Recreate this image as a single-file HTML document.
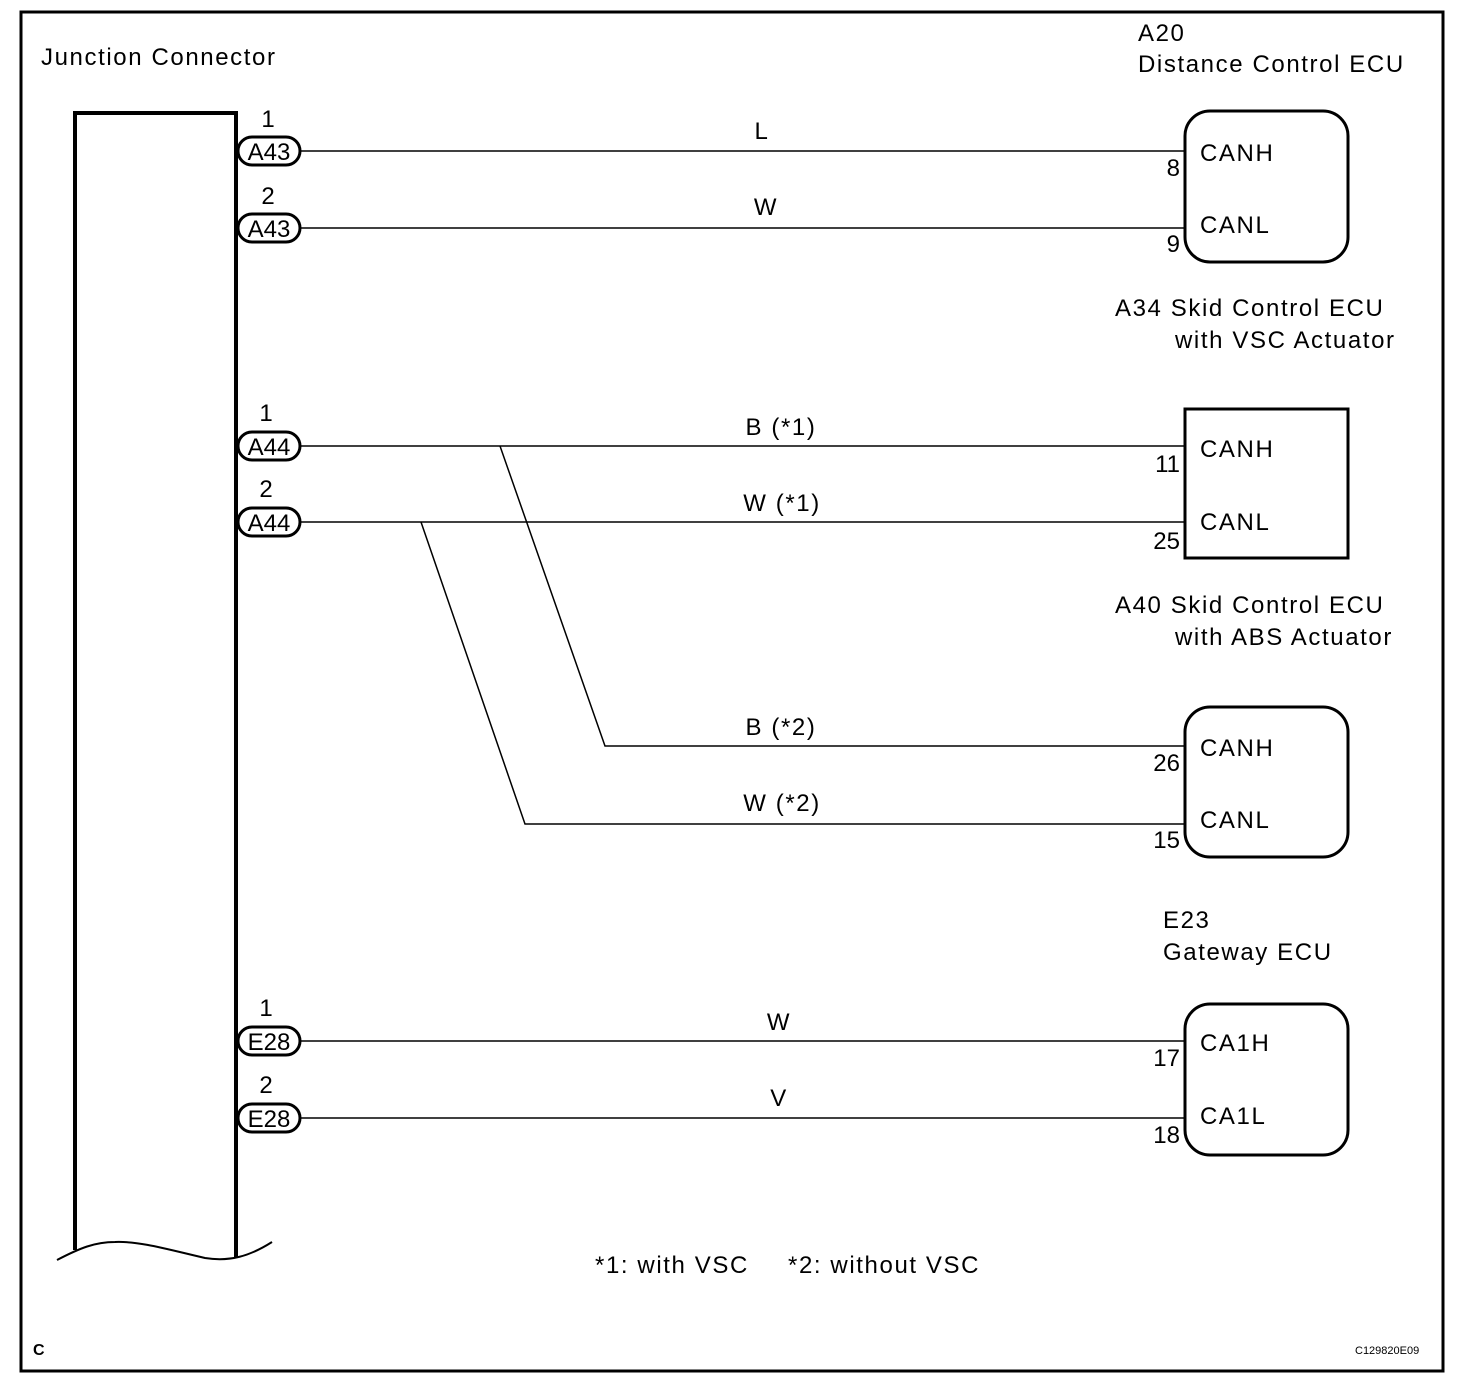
<!DOCTYPE html>
<html><head><meta charset="utf-8"><style>
html,body{margin:0;padding:0;background:#fff;}
svg{display:block;}
text{font-family:"Liberation Sans",Arial,sans-serif;fill:#000;}
.w{letter-spacing:1.6px;}
</style></head><body>
<svg width="1472" height="1394" viewBox="0 0 1472 1394" xmlns="http://www.w3.org/2000/svg">
<rect x="21" y="12" width="1422" height="1359" fill="none" stroke="#000" stroke-width="3"/>
<path d="M75,1250 V113 H236 V1258" fill="none" stroke="#000" stroke-width="4"/>
<path d="M57,1260 C80,1248 95,1242 115,1242 C140,1241 170,1250 205,1258 C230,1262 250,1256 272,1242" fill="none" stroke="#000" stroke-width="2"/>
<g font-size="24" class="w">
<text x="41" y="65">Junction Connector</text>
<text x="1138" y="41">A20</text>
<text x="1138" y="72">Distance Control ECU</text>
<text x="1115" y="316">A34  Skid Control ECU</text>
<text x="1175" y="348">with VSC Actuator</text>
<text x="1115" y="613">A40  Skid Control ECU</text>
<text x="1175" y="645">with ABS Actuator</text>
<text x="1163" y="928">E23</text>
<text x="1163" y="960">Gateway ECU</text>
<text x="595" y="1273">*1: with VSC</text>
<text x="788" y="1273">*2: without VSC</text>
</g>
<text x="33" y="1355" font-size="16" font-weight="bold">C</text>
<text x="1355" y="1354" font-size="11">C129820E09</text>

<g stroke="#000" fill="none">
<g stroke-width="3">
<rect x="238" y="137" width="62" height="28" rx="14"/>
<rect x="238" y="214" width="62" height="28" rx="14"/>
<rect x="238" y="432" width="62" height="28" rx="14"/>
<rect x="238" y="508" width="62" height="28" rx="14"/>
<rect x="238" y="1027" width="62" height="28" rx="14"/>
<rect x="238" y="1104" width="62" height="28" rx="14"/>
<rect x="1185" y="111" width="163" height="151" rx="25"/>
<rect x="1185" y="409" width="163" height="149"/>
<rect x="1185" y="707" width="163" height="150" rx="25"/>
<rect x="1185" y="1004" width="163" height="151" rx="25"/>
</g>
<g stroke-width="1.5">
<line x1="300" y1="151" x2="1185" y2="151"/>
<line x1="300" y1="228" x2="1185" y2="228"/>
<line x1="300" y1="446" x2="1185" y2="446"/>
<line x1="300" y1="522" x2="1185" y2="522"/>
<polyline points="500,446 605,746 1185,746"/>
<polyline points="421,522 525,824 1185,824"/>
<line x1="300" y1="1041" x2="1185" y2="1041"/>
<line x1="300" y1="1118" x2="1185" y2="1118"/>
</g>
</g>
<g font-size="24" text-anchor="middle">
<text x="269" y="160">A43</text><text x="268" y="127">1</text>
<text x="269" y="237">A43</text><text x="268" y="204">2</text>
<text x="269" y="455">A44</text><text x="266" y="421">1</text>
<text x="269" y="531">A44</text><text x="266" y="497">2</text>
<text x="269" y="1050">E28</text><text x="266" y="1016">1</text>
<text x="269" y="1127">E28</text><text x="266" y="1093">2</text>
</g>
<g font-size="24" text-anchor="middle" class="w">
<text x="762" y="139">L</text>
<text x="766" y="215">W</text>
<text x="781" y="435">B (*1)</text>
<text x="782" y="511">W (*1)</text>
<text x="781" y="735">B (*2)</text>
<text x="782" y="811">W (*2)</text>
<text x="779" y="1030">W</text>
<text x="779" y="1106">V</text>
</g>
<g font-size="24" text-anchor="end">
<text x="1180" y="176">8</text><text x="1180" y="252">9</text>
<text x="1180" y="472">11</text><text x="1180" y="549">25</text>
<text x="1180" y="771">26</text><text x="1180" y="848">15</text>
<text x="1180" y="1066">17</text><text x="1180" y="1143">18</text>
</g>
<g font-size="24" class="w">
<text x="1200" y="161">CANH</text><text x="1200" y="233">CANL</text>
<text x="1200" y="457">CANH</text><text x="1200" y="530">CANL</text>
<text x="1200" y="756">CANH</text><text x="1200" y="828">CANL</text>
<text x="1200" y="1051">CA1H</text><text x="1200" y="1124">CA1L</text>
</g>
</svg>
</body></html>
